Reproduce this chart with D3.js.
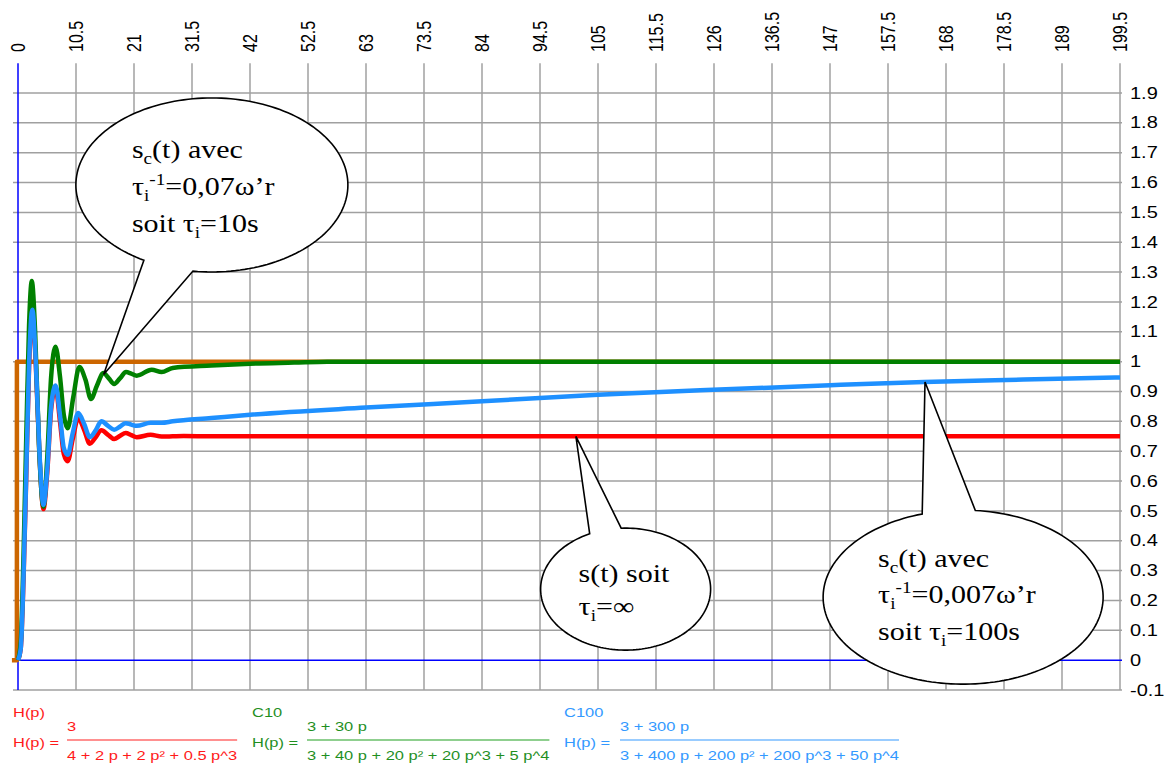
<!DOCTYPE html>
<html>
<head>
<meta charset="utf-8">
<script src="https://cdn.jsdelivr.net/npm/d3@7"></script>
<style>
  body { margin: 0; background: #fff; }
  svg { display: block; }
</style>
</head>
<body>
<svg id="chart" width="1169" height="768"></svg>
<script>
// time ticks along the top, every 10.5 s
const xTicks = [0, 10.5, 21, 31.5, 42, 52.5, 63, 73.5, 84, 94.5, 105, 115.5, 126, 136.5, 147, 157.5, 168, 178.5, 189, 199.5];
const yTicks = [-0.1, 0, 0.1, 0.2, 0.3, 0.4, 0.5, 0.6, 0.7, 0.8, 0.9, 1, 1.1, 1.2, 1.3, 1.4, 1.5, 1.6, 1.7, 1.8, 1.9];
const yLabels = ['-0.1', '0', '0.1', '0.2', '0.3', '0.4', '0.5', '0.6', '0.7', '0.8', '0.9', '1', '1.1', '1.2', '1.3', '1.4', '1.5', '1.6', '1.7', '1.8', '1.9'];

// consigne (échelon)
const stepPts = [[-1.1, 0], [-0.2, 0], [-0.2, 1], [199.5, 1]];

// H(p) : s(t)
const redPts = [[0, 0], [0.5, 0.04], [1.0, 0.27], [1.5, 0.62], [2.0, 0.98], [2.6, 1.16], [3.2, 1.0], [3.9, 0.68], [4.6, 0.506],
    [5.3, 0.63], [6.0, 0.84], [6.8, 0.912], [7.6, 0.8], [8.3, 0.69], [9.0, 0.666], [9.9, 0.74], [10.9, 0.811], [12.0, 0.77],
    [13.0, 0.725], [14.0, 0.745], [15.1, 0.77], [16.3, 0.755], [17.4, 0.741], [18.5, 0.752], [19.5, 0.761], [20.5, 0.754],
    [21.5, 0.747], [24, 0.755], [26, 0.749], [30, 0.751], [35, 0.75], [199.5, 0.75]];

// C10
const greenPts = [[0, 0], [0.5, 0.06], [1.0, 0.35], [1.5, 0.75], [2.0, 1.12], [2.5, 1.27], [3.1, 1.1], [3.8, 0.72], [4.6, 0.514],
    [5.3, 0.68], [6.0, 0.95], [6.8, 1.05], [7.6, 0.95], [8.3, 0.82], [9.0, 0.777], [10.0, 0.88], [11.1, 0.982], [12.2, 0.94],
    [13.2, 0.875], [14.3, 0.92], [15.45, 0.962], [16.4, 0.945], [17.4, 0.925], [18.5, 0.945], [19.55, 0.965], [20.5, 0.96],
    [21.5, 0.953], [24.2, 0.973], [26, 0.965], [28, 0.979], [35, 0.987], [42, 0.993], [50, 0.997], [56, 1.0], [199.5, 1.0]];

// C100
const bluePts = [[0, 0], [0.5, 0.04], [1.0, 0.28], [1.5, 0.63], [2.0, 0.99], [2.6, 1.174], [3.2, 1.01], [3.9, 0.69], [4.6, 0.52],
    [5.3, 0.64], [6.0, 0.85], [6.8, 0.92], [7.6, 0.82], [8.3, 0.71], [9.0, 0.688], [9.9, 0.76], [10.9, 0.828], [12.0, 0.79],
    [13.0, 0.747], [14.0, 0.768], [15.1, 0.8], [16.3, 0.785], [17.4, 0.772], [18.5, 0.783], [19.5, 0.794], [20.5, 0.789],
    [21.5, 0.785], [24, 0.795], [26, 0.795], [28, 0.8], [35, 0.811], [42, 0.822], [63, 0.846], [84, 0.867], [105, 0.889],
    [123.5, 0.904], [147, 0.921], [164, 0.932], [182, 0.94], [199.5, 0.947]];

const legendNames = ['H(p)', 'C10', 'C100'];
const legendNums = ['3', '3 + 30 p', '3 + 300 p'];
const legendDens = ['4 + 2 p + 2 p² + 0.5 p^3', '3 + 40 p + 20 p² + 20 p^3 + 5 p^4', '3 + 400 p + 200 p² + 200 p^3 + 50 p^4'];

const SX = 1.25; // the picture is stretched horizontally, so is its text
const svg = d3.select('#chart');

const x = d3.scaleLinear().domain([0, 199.5]).range([18, 1120]);
const y = d3.scaleLinear().domain([-0.1, 1.9]).range([690, 93]);

function place(sel, px, py, sx) {
    return sel.attr('transform', `translate(${px},${py}) scale(${sx || SX},1)`);
}

// grid
const grid = svg.append('g').attr('stroke', '#a0a0a0').attr('stroke-width', 1.5);
grid.selectAll('line.v')
    .data(xTicks.filter(d => d !== 0))
    .join('line')
    .attr('x1', d => x(d)).attr('x2', d => x(d))
    .attr('y1', y(2.0)).attr('y2', y(-0.1));
grid.selectAll('line.h')
    .data(yTicks.filter(d => d !== 0))
    .join('line')
    .attr('x1', x(0) - 5).attr('x2', x(199.5) + 2)
    .attr('y1', d => y(d)).attr('y2', d => y(d));

// blue axes
svg.append('line')
   .attr('x1', x(0)).attr('x2', x(0)).attr('y1', y(2.0)).attr('y2', y(-0.1))
   .attr('stroke', '#0000ff').attr('stroke-width', 1.5);
svg.append('line')
   .attr('x1', x(0) - 5).attr('x2', x(199.5) + 2).attr('y1', y(0)).attr('y2', y(0))
   .attr('stroke', '#0000ff').attr('stroke-width', 1.5);

// tick labels
const font = 'Liberation Sans, Arial, sans-serif';
svg.append('g').selectAll('text')
   .data(yTicks)
   .join('text')
   .each(function(d) {
       place(d3.select(this), 1130, y(d));
   })
   .attr('dy', '0.35em')
   .attr('font-family', font).attr('font-size', 16)
   .text((d, i) => yLabels[i]);

svg.append('g').selectAll('text')
   .data(xTicks)
   .join('text')
   .each(function(d) {
       d3.select(this).attr('transform', `translate(${x(d)},52) scale(${SX},1) rotate(-90)`);
   })
   .attr('dy', '0.35em')
   .attr('font-family', font).attr('font-size', 16)
   .text(d => String(d));

// curves
const line = d3.line().x(d => x(d[0])).y(d => y(d[1]));
const series = [
    { pts: stepPts, color: '#cc6600', curve: d3.curveLinear },
    { pts: redPts, color: '#ff0000' },
    { pts: greenPts, color: '#008000' },
    { pts: bluePts, color: '#1e90ff' }
];
series.forEach(s => {
    svg.append('path')
       .attr('d', line.curve(s.curve || d3.curveMonotoneX)(s.pts))
       .attr('fill', 'none')
       .attr('stroke', s.color)
       .attr('stroke-width', 4.5)
       .attr('stroke-linejoin', 'round');
});

// speech bubbles
const bubbles = [
    { cx: 35.1, cy: 1.592, rx: 136, ry: 87, tip: [15.5, 0.957], a0: 120, a1: 459, tx: -80,
      lines: [[-27, [['s', 0], ['c', 1], ['(t) avec', 0]]],
              [10, [['τ', 0], ['i', 1], ['-1', -1], ['=0,07ω’r', 0]]],
              [47, [['soit τ', 0], ['i', 1], ['=10s', 0]]]] },
    { cx: 110, cy: 0.238, rx: 85, ry: 61, tip: [101, 0.75], a0: 267, a1: 605, tx: -47,
      lines: [[-7, [['s(t) soit', 0]]],
              [26, [['τ', 0], ['i', 1], ['=∞', 0]]]] },
    { cx: 171.1, cy: 0.211, rx: 140, ry: 87, tip: [164.2, 0.932], a0: 275, a1: 613, tx: -85,
      lines: [[-30, [['s', 0], ['c', 1], ['(t) avec', 0]]],
              [6, [['τ', 0], ['i', 1], ['-1', -1], ['=0,007ω’r', 0]]],
              [43, [['soit τ', 0], ['i', 1], ['=100s', 0]]]] }
];

bubbles.forEach(b => {
    const cx = x(b.cx), cy = y(b.cy);
    const pts = d3.range(b.a0, b.a1 + 0.5, 2).map(a => {
        const r = a * Math.PI / 180;
        return [cx + b.rx * Math.cos(r), cy + b.ry * Math.sin(r)];
    });
    pts.push([x(b.tip[0]), y(b.tip[1])]);
    svg.append('path')
       .attr('d', d3.line()(pts) + 'Z')
       .attr('fill', '#fff')
       .attr('stroke', '#000')
       .attr('stroke-width', 1.6);

    b.lines.forEach(([dyl, segs]) => {
        const t = svg.append('text')
                     .attr('font-family', 'Liberation Serif, Times New Roman, serif')
                     .attr('font-size', 25)
                     .attr('fill', '#000');
        place(t, cx + b.tx, cy + dyl, 1.2);
        let cur = 0;
        segs.forEach(([str, kind]) => {
            const off = kind === 1 ? 6 : kind === -1 ? -10 : 0;
            t.append('tspan')
             .attr('dy', off - cur)
             .attr('font-size', kind === 0 ? 25 : 16)
             .text(str);
            cur = off;
        });
    });
});

// legend with fractions
const legendLayout = [
    { x: 13, fx: 67, color: '#ff1a1a', lineColor: '#ff9090' },
    { x: 252, fx: 307, color: '#1f8f1f', lineColor: '#8fcf8f' },
    { x: 564, fx: 620, color: '#3399ff', lineColor: '#99ccff' }
];
legendNames.forEach((name, i) => {
    const L = legendLayout[i];
    const g = svg.append('g').attr('fill', L.color).attr('font-family', font).attr('font-size', 13.5);
    place(g.append('text').text(name), L.x, 717, 1.22);
    place(g.append('text').text('H(p) ='), L.x, 747, 1.22);
    place(g.append('text').text(legendNums[i]), L.fx, 731, 1.22);
    const den = g.append('text').text(legendDens[i]);
    place(den, L.fx, 760, 1.22);
    const w = den.node().getComputedTextLength() * 1.22;
    g.append('line')
     .attr('x1', L.fx).attr('x2', L.fx + w)
     .attr('y1', 740).attr('y2', 740)
     .attr('stroke', L.lineColor).attr('stroke-width', 2);
});
</script>
</body>
</html>
